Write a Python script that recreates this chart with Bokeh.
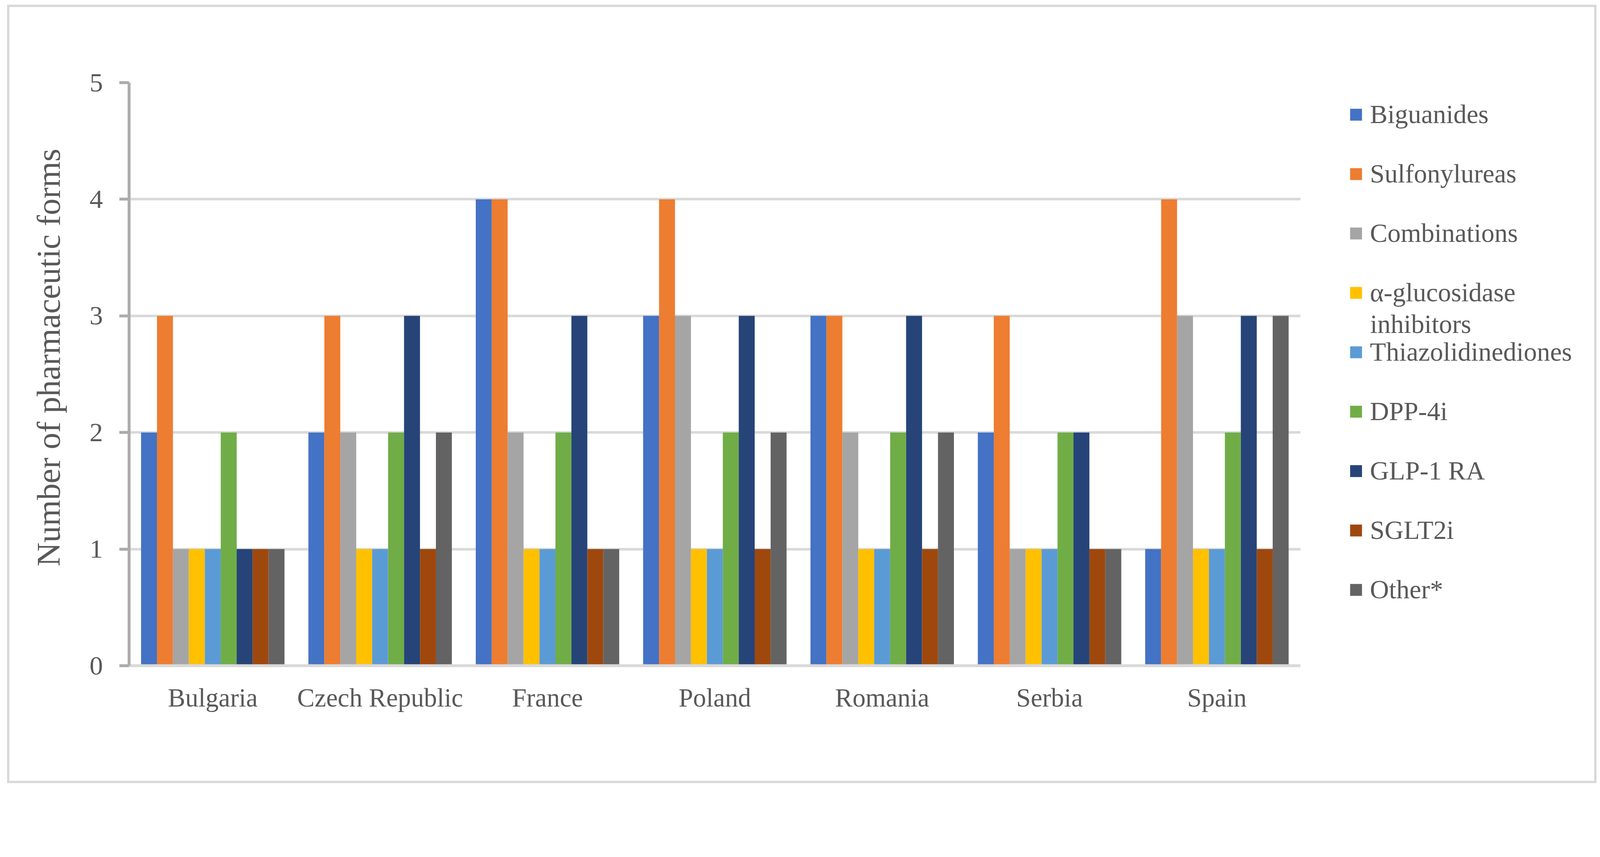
from bokeh.plotting import figure
from bokeh.layouts import row
from bokeh.models import (ColumnDataSource, FactorRange, Range1d, FixedTicker, Legend, LegendItem, Label)
from bokeh.transform import dodge
from bokeh.embed import file_html
from bokeh.resources import INLINE

countries = ["Bulgaria", "Czech Republic", "France", "Poland", "Romania", "Serbia", "Spain"]
series = ["Biguanides", "Sulfonylureas", "Combinations", "\u03b1-glucosidase inhibitors",
          "Thiazolidinediones", "DPP-4i", "GLP-1 RA", "SGLT2i", "Other*"]
legend_labels = ["Biguanides", "Sulfonylureas", "Combinations", "\u03b1-glucosidase",
                 "Thiazolidinediones", "DPP-4i", "GLP-1 RA", "SGLT2i", "Other*"]
wrapped_line = "inhibitors"
colors = ["#4472C4", "#ED7D31", "#A5A5A5", "#FFC000", "#5B9BD5", "#70AD47", "#264478", "#9E480E", "#636363"]

biguanides = [2, 2, 4, 3, 3, 2, 1]
sulfonylureas = [3, 3, 4, 4, 3, 3, 4]
combinations = [1, 2, 2, 3, 2, 1, 3]
alpha_glucosidase = [1, 1, 1, 1, 1, 1, 1]
thiazolidinediones = [1, 1, 1, 1, 1, 1, 1]
dpp4i = [2, 2, 2, 2, 2, 2, 2]
glp1ra = [1, 3, 3, 3, 3, 2, 3]
sglt2i = [1, 1, 1, 1, 1, 1, 1]
other = [1, 2, 1, 2, 2, 1, 3]
y_ticks = [0, 1, 2, 3, 4, 5]
y_title = "Number of pharmaceutic forms"

values = [biguanides, sulfonylureas, combinations, alpha_glucosidase, thiazolidinediones,
          dpp4i, glp1ra, sglt2i, other]
keys = ["s%d" % i for i in range(len(series))]
data = {"country": countries}
for k, v in zip(keys, values):
    data[k] = v
source = ColumnDataSource(data)

FONT = "Liberation Serif"
TXT = "#595959"

W_ALL, H_ALL = 4057, 1980
W_MAIN = 3305
W_LEG = W_ALL - W_MAIN
B_TOP, B_BOTTOM = 193, 295

# ---------------- main chart ----------------
p = figure(width=W_MAIN, height=H_ALL, x_range=FactorRange(*countries), y_range=Range1d(0, 5),
           output_backend="svg", toolbar_location=None,
           min_border_left=306, min_border_right=0, min_border_top=B_TOP, min_border_bottom=B_BOTTOM)
p.outline_line_color = None
p.background_fill_color = "white"
p.border_fill_color = "white"

bw = 1.0 / 10.5
for i, (k, c) in enumerate(zip(keys, colors)):
    p.vbar(x=dodge("country", (i - 4) * bw, range=p.x_range), top=k, width=bw,
           source=source, fill_color=c, line_color=None)

p.xgrid.grid_line_color = None
p.ygrid.grid_line_color = "#D9D9D9"
p.ygrid.grid_line_width = 6.5
p.yaxis.ticker = FixedTicker(ticks=y_ticks)

p.yaxis.axis_line_color = "#AEABAB"
p.yaxis.axis_line_width = 7.5
p.yaxis.major_tick_line_color = "#AEABAB"
p.yaxis.major_tick_line_width = 7.5
p.yaxis.major_tick_out = 25
p.yaxis.major_tick_in = 0
p.yaxis.minor_tick_line_color = None
p.yaxis.major_label_text_font = FONT
p.yaxis.major_label_text_font_size = "68.5px"
p.yaxis.major_label_text_color = TXT
p.yaxis.major_label_standoff = 42
p.yaxis.axis_label = "\u00a0\u00a0\u00a0\u00a0" + y_title
p.yaxis.axis_label_text_font = FONT
p.yaxis.axis_label_text_font_size = "85px"
p.yaxis.axis_label_text_font_style = "normal"
p.yaxis.axis_label_text_color = TXT
p.yaxis.axis_label_standoff = 55

p.xaxis.axis_line_color = "#D9D9D9"
p.xaxis.axis_line_width = 7.5
p.xaxis.major_tick_line_color = None
p.xaxis.minor_tick_line_color = None
p.xaxis.major_label_text_font = FONT
p.xaxis.major_label_text_font_size = "66.8px"
p.xaxis.major_label_text_color = TXT
p.xaxis.major_label_standoff = 38

# ---------------- legend panel ----------------
LEG_LEFT = 117
LEG_MARGIN = 6
q = figure(width=W_LEG, height=H_ALL,
           x_range=Range1d(0, W_LEG - LEG_LEFT), y_range=Range1d(0, H_ALL - B_TOP - B_BOTTOM),
           output_backend="svg", toolbar_location=None, x_axis_location=None, y_axis_location=None,
           min_border_left=LEG_LEFT, min_border_top=B_TOP, min_border_right=0, min_border_bottom=B_BOTTOM)
q.outline_line_color = None
q.xgrid.grid_line_color = None
q.ygrid.grid_line_color = None
q.background_fill_color = "white"
q.border_fill_color = "white"

swatches = []
for c in colors:
    swatches.append(q.vbar(x=[-50], top=[-50], width=1, fill_color=c, line_color=None))

ITEM_H = 152
items = [LegendItem(label=l, renderers=[r]) for l, r in zip(legend_labels, swatches)]
legend = Legend(items=items, location="top_left",
                orientation="vertical", glyph_width=38, glyph_height=38, label_height=ITEM_H,
                spacing=0, label_standoff=17, padding=0, margin=LEG_MARGIN,
                label_text_font=FONT, label_text_font_size="67.5px",
                label_text_color=TXT, border_line_color=None, background_fill_alpha=0)
q.add_layout(legend, "center")

# second line of the wrapped legend label, drawn under "α-glucosidase"
q.add_layout(Label(x=LEG_MARGIN + 38 + 17, y=(H_ALL - B_BOTTOM) - 811, text=wrapped_line,
                   text_font=FONT, text_font_size="67.5px", text_color=TXT,
                   text_baseline="alphabetic", text_align="left"))

layout = row(p, q, spacing=0)
layout.styles = {"border": "6px solid #D9D9D9", "margin-left": "18px", "margin-top": "12px"}

open("out.html", "w").write(file_html(layout, INLINE))
